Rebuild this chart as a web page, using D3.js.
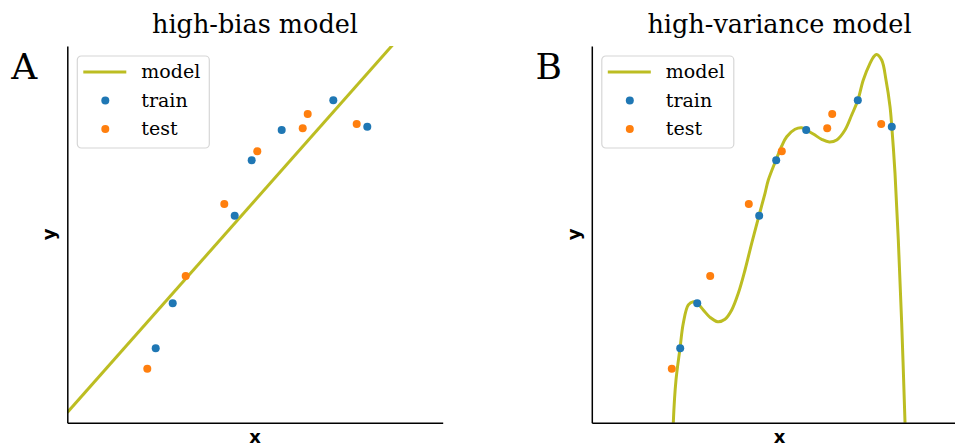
<!DOCTYPE html>
<html>
<head>
<meta charset="utf-8">
<script src="https://cdn.jsdelivr.net/npm/d3@7"></script>
<style>
  body { margin: 0; background: #fff; }
  svg { display: block; }
</style>
</head>
<body>
<svg id="chart" width="955" height="445"></svg>
<script>
// Training sample
const trainX = [2.355, 2.808, 4.459, 4.912, 5.711, 7.086, 7.991];
const trainY = [1.975, 3.170, 5.495, 6.966, 7.770, 8.559, 7.858];

// Held-out sample
const testX = [2.131, 3.154, 4.182, 5.061, 6.271, 6.404, 7.709];
const testY = [1.434, 3.894, 5.806, 7.205, 7.815, 8.195, 7.929];

// Straight-line (high-bias) fit, given by two end points
const biasX = [0, 10];
const biasY = [0.271, 11.53];

// Flexible (high-variance) fit, sampled along its curve
const varX = [2.160, 2.171, 2.243, 2.350, 2.437, 2.571, 2.704, 2.810, 2.970, 3.149, 3.354, 3.548,
              3.727, 3.902, 4.081, 4.259, 4.454, 4.614, 4.702, 4.905, 5.059, 5.192, 5.413, 5.591,
              5.711, 5.900, 6.124, 6.327, 6.524, 6.745, 6.923, 7.086, 7.232, 7.411, 7.520, 7.584,
              7.722, 7.837, 7.944, 7.991, 8.077, 8.165, 8.255, 8.343, 8.362];
const varY = [-0.50, 0.000, 1.134, 1.975, 2.639, 3.125, 3.212, 3.170, 2.992, 2.798, 2.681, 2.745,
              2.992, 3.435, 4.054, 4.762, 5.495, 6.090, 6.443, 6.970, 7.345, 7.592, 7.789, 7.831,
              7.770, 7.664, 7.523, 7.452, 7.505, 7.770, 8.168, 8.559, 9.098, 9.541, 9.730, 9.775,
              9.628, 9.098, 8.389, 7.858, 6.621, 4.850, 2.639, 0.027, -0.59];

const panelTitles = ["high-bias model", "high-variance model"];
const panelLetters = ["A", "B"];
const legendLabels = ["model", "train", "test"];

const colors = { model: "#bcbd22", train: "#1f77b4", test: "#ff7f0e" };

const svg = d3.select("#chart");
const W = 375.4, H = 376.7;
const panelLeft = [67.3, 591.8];
const panelTop = 46;

const x = d3.scaleLinear().domain([0, 10]).range([0, W]);
const y = d3.scaleLinear().domain([0, 10]).range([H, 0]);

const serif = "'DejaVu Serif', serif";
const sans = "'DejaVu Sans', sans-serif";

const models = [
  d3.zip(biasX, biasY),
  d3.zip(varX, varY)
];
const curves = [d3.curveLinear, d3.curveCatmullRom.alpha(0.5)];

panelLeft.forEach((left, i) => {
  const g = svg.append("g").attr("transform", `translate(${left},${panelTop})`);

  g.append("clipPath").attr("id", "clip" + i)
    .append("rect").attr("x", 0).attr("y", 0).attr("width", W).attr("height", H);

  // model curve
  const line = d3.line().x(d => x(d[0])).y(d => y(d[1])).curve(curves[i]);
  g.append("path")
    .datum(models[i])
    .attr("clip-path", `url(#clip${i})`)
    .attr("d", line)
    .attr("fill", "none")
    .attr("stroke", colors.model)
    .attr("stroke-width", 3);

  // points
  g.append("g").selectAll("circle")
    .data(d3.zip(trainX, trainY)).join("circle")
    .attr("cx", d => x(d[0])).attr("cy", d => y(d[1]))
    .attr("r", 4).attr("fill", colors.train);
  g.append("g").selectAll("circle")
    .data(d3.zip(testX, testY)).join("circle")
    .attr("cx", d => x(d[0])).attr("cy", d => y(d[1]))
    .attr("r", 4).attr("fill", colors.test);

  // spines (left and bottom only, no ticks)
  g.append("g").attr("transform", `translate(0,${H})`)
    .call(d3.axisBottom(x).tickValues([]).tickSizeOuter(0))
    .call(a => a.select(".domain").attr("stroke", "#000").attr("stroke-width", 1.5));
  g.append("g")
    .call(d3.axisLeft(y).tickValues([]).tickSizeOuter(0))
    .call(a => a.select(".domain").attr("stroke", "#000").attr("stroke-width", 1.5));

  // axis labels
  g.append("text").attr("x", W / 2).attr("y", H + 20)
    .attr("text-anchor", "middle").attr("font-family", sans)
    .attr("font-weight", "bold").attr("font-size", 18).text("x");
  g.append("text")
    .attr("transform", `translate(-12,${H / 2}) rotate(-90)`)
    .attr("text-anchor", "middle").attr("font-family", sans)
    .attr("font-weight", "bold").attr("font-size", 18).text("y");

  // title
  g.append("text").attr("x", W / 2).attr("y", -13)
    .attr("text-anchor", "middle").attr("font-family", serif)
    .attr("font-size", 25.5).text(panelTitles[i]);

  // panel letter
  g.append("text").attr("x", -43).attr("y", 33)
    .attr("text-anchor", "middle").attr("font-family", serif)
    .attr("font-size", 36).text(panelLetters[i]);

  // legend
  const lg = g.append("g").attr("transform", "translate(10,10)");
  lg.append("rect").attr("width", 132).attr("height", 92)
    .attr("rx", 4).attr("fill", "#fff").attr("fill-opacity", 0.8)
    .attr("stroke", "#d6d6d6").attr("stroke-width", 1.2);
  const rowY = [16, 44.5, 73];
  lg.append("line").attr("x1", 6).attr("x2", 49).attr("y1", rowY[0]).attr("y2", rowY[0])
    .attr("stroke", colors.model).attr("stroke-width", 3);
  lg.append("circle").attr("cx", 28).attr("cy", rowY[1]).attr("r", 4).attr("fill", colors.train);
  lg.append("circle").attr("cx", 28).attr("cy", rowY[2]).attr("r", 4).attr("fill", colors.test);
  legendLabels.forEach((t, k) => {
    lg.append("text").attr("x", 64).attr("y", rowY[k] + 6)
      .attr("font-family", serif).attr("font-size", 19).text(t);
  });
});
</script>
</body>
</html>
